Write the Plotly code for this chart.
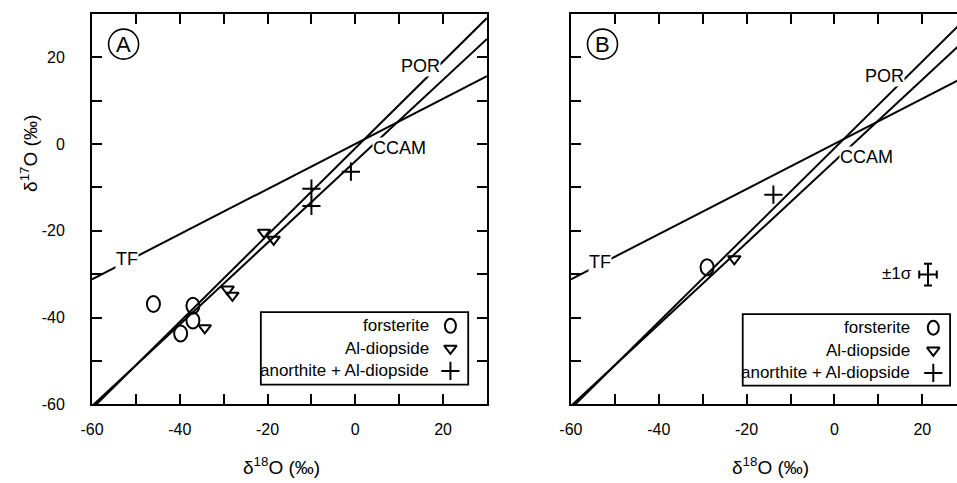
import plotly.graph_objects as go

W, H = 957, 483
FONT = "Liberation Sans, Arial, Helvetica, sans-serif"

# ---- measured oxygen isotope compositions (per mil) ----
# Panel A
forsterite_a_x = [-46.0, -37.0, -37.0, -39.8]
forsterite_a_y = [-36.9, -37.3, -40.7, -43.7]
diopside_a_x = [-20.8, -18.6, -29.1, -28.0, -34.3]
diopside_a_y = [-20.4, -22.0, -33.5, -34.9, -42.4]
anorthite_a_x = [-10.0, -10.0, -1.0]
anorthite_a_y = [-10.3, -14.3, -6.4]

# Panel B
forsterite_b_x = [-29.0]
forsterite_b_y = [-28.4]
diopside_b_x = [-22.8]
diopside_b_y = [-26.5]
anorthite_b_x = [-13.9]
anorthite_b_y = [-11.7]

# typical 1-sigma uncertainty
sigma_x = [21.3]
sigma_y = [-30.1]
sigma_err_x = [2.0]
sigma_err_y = [2.5]

# reference lines: delta17O = slope * delta18O + intercept
line_names = ["TF", "CCAM", "POR"]
line_slopes = [0.52, 0.94, 1.00]
line_intercepts = [0.0, -4.0, -1.0]
line_x = [-60, 30]

tick_vals = [-60, -50, -40, -30, -20, -10, 0, 10, 20, 30]
x_tick_text = ["-60", "", "-40", "", "-20", "", "0", "", "20", ""]
y_tick_text = ["-60", "", "-40", "", "-20", "", "0", "", "20", ""]

legend_labels = ["forsterite", "Al-diopside", "anorthite + Al-diopside"]


def px(x):
    return x / W


def py(y):
    return 1 - y / H


fig = go.Figure()

# reference lines in both panels
for xa, ya in (("x", "y"), ("x2", "y2")):
    for s, b in zip(line_slopes, line_intercepts):
        fig.add_trace(go.Scatter(
            x=line_x, y=[s * v + b for v in line_x], mode="lines",
            line=dict(color="black", width=2), xaxis=xa, yaxis=ya,
            showlegend=False, hoverinfo="skip"))

tri = dict(symbol="triangle-down-open", size=11, color="black",
           line=dict(color="black", width=2))
plus = dict(symbol="cross-thin-open", size=13, color="black",
            line=dict(color="black", width=2))

for xa, ya, dx, dy, ax_, ay_ in (
        ("x", "y", diopside_a_x, diopside_a_y, anorthite_a_x, anorthite_a_y),
        ("x2", "y2", diopside_b_x, diopside_b_y, anorthite_b_x, anorthite_b_y)):
    fig.add_trace(go.Scatter(x=dx, y=dy, mode="markers", marker=tri,
                             xaxis=xa, yaxis=ya, showlegend=False))
    fig.add_trace(go.Scatter(x=ax_, y=ay_, mode="markers", marker=plus,
                             xaxis=xa, yaxis=ya, showlegend=False))

# forsterite: open ellipses, placed on the data axes and sized in pixels
shapes = []
for xr, yr, fx, fy in (("x", "y", forsterite_a_x, forsterite_a_y),
                       ("x2", "y2", forsterite_b_x, forsterite_b_y)):
    for xv, yv in zip(fx, fy):
        shapes.append(dict(type="circle", xref=xr, yref=yr,
                           xsizemode="pixel", ysizemode="pixel",
                           xanchor=xv, yanchor=yv,
                           x0=-6.5, x1=6.5, y0=-8, y1=8,
                           line=dict(color="black", width=2)))

# 1-sigma error cross in panel B
fig.add_trace(go.Scatter(
    x=sigma_x, y=sigma_y, mode="markers", xaxis="x2", yaxis="y2",
    marker=dict(size=1, color="black"), showlegend=False,
    error_x=dict(type="data", array=sigma_err_x, color="black",
                 thickness=2, width=4),
    error_y=dict(type="data", array=sigma_err_y, color="black",
                 thickness=2, width=4)))

# legend boxes (symbol to the right of the text)
legend_boxes = [
    dict(x0=252, x1=462, y0=318, y1=392, text_r=424, key_x=444,
         rows=[332, 355, 378]),
    dict(x0=740, x1=950, y0=320, y1=393, text_r=911, key_x=933,
         rows=[334, 357, 380]),
]
annotations = []
for lb in legend_boxes:
    shapes.append(dict(type="rect", xref="paper", yref="paper",
                       x0=px(lb["x0"]), x1=px(lb["x1"]),
                       y0=py(lb["y1"]), y1=py(lb["y0"]),
                       line=dict(color="black", width=1.8)))
    for label, row in zip(legend_labels, lb["rows"]):
        annotations.append(dict(xref="paper", yref="paper",
                                x=px(lb["text_r"]), y=py(row),
                                xanchor="right", yanchor="middle",
                                text=label, showarrow=False,
                                font=dict(family=FONT, size=17, color="black")))
    shapes.append(dict(type="circle", xref="paper", yref="paper",
                       xsizemode="pixel", ysizemode="pixel",
                       xanchor=px(lb["key_x"]), yanchor=py(lb["rows"][0]),
                       x0=-5.5, x1=5.5, y0=-7, y1=7,
                       line=dict(color="black", width=2)))
    fig.add_trace(go.Scatter(
        x=[px(lb["key_x"])], y=[py(lb["rows"][1])], mode="markers",
        marker=tri, xaxis="x3", yaxis="y3", showlegend=False,
        hoverinfo="skip"))
    fig.add_trace(go.Scatter(
        x=[px(lb["key_x"])], y=[py(lb["rows"][2])], mode="markers",
        marker=plus, xaxis="x3", yaxis="y3", showlegend=False,
        hoverinfo="skip"))

# line labels
line_labels = [
    ("x", "y", "POR", 14.9, 18.0), ("x", "y", "CCAM", 10.0, -1.0),
    ("x", "y", "TF", -52.1, -26.5),
    ("x2", "y2", "POR", 11.5, 15.7), ("x2", "y2", "CCAM", 7.4, -3.1),
    ("x2", "y2", "TF", -53.3, -27.1),
]
for xr, yr, t, xv, yv in line_labels:
    annotations.append(dict(xref=xr, yref=yr, x=xv, y=yv, text=t,
                            xanchor="center", yanchor="middle",
                            showarrow=False, bgcolor="white", borderpad=0,
                            font=dict(family=FONT, size=18, color="black")))

# panel letters in circles
for letter, cx, cy in (("A", 113, 45), ("B", 598, 45)):
    shapes.append(dict(type="circle", xref="paper", yref="paper",
                       xsizemode="pixel", ysizemode="pixel",
                       xanchor=px(cx), yanchor=py(cy),
                       x0=-15, x1=15, y0=-15, y1=15,
                       line=dict(color="black", width=1.6)))
    annotations.append(dict(xref="paper", yref="paper", x=px(cx),
                            y=py(cy), xanchor="center", yanchor="middle",
                            text=letter, showarrow=False,
                            font=dict(family=FONT, size=22, color="black")))

annotations.append(dict(xref="paper", yref="paper", x=px(913), y=py(279),
                        xanchor="right", yanchor="middle", text="±1σ",
                        showarrow=False,
                        font=dict(family=FONT, size=17, color="black")))

# axis titles
for cx in (273, 768):
    annotations.append(dict(xref="paper", yref="paper", x=px(cx), y=py(475),
                            xanchor="center", yanchor="middle",
                            text="δ<sup>18</sup>O (‰)", showarrow=False,
                            font=dict(family=FONT, size=19, color="black")))
annotations.append(dict(xref="paper", yref="paper", x=px(17), y=py(156),
                        xanchor="center", yanchor="middle",
                        text="δ<sup>17</sup>O (‰)", textangle=-90,
                        showarrow=False,
                        font=dict(family=FONT, size=19, color="black")))

axis_common = dict(showline=True, linecolor="black", linewidth=2,
                   ticks="inside", ticklen=10, tickwidth=2,
                   tickcolor="black", showgrid=False, zeroline=False,
                   tickvals=tick_vals,
                   tickfont=dict(family=FONT, size=16, color="black"))

y_dom = [py(412), py(14)]

fig.update_layout(
    width=W, height=H, margin=dict(l=0, r=0, t=0, b=0),
    paper_bgcolor="white", plot_bgcolor="rgba(0,0,0,0)", showlegend=False,
    xaxis=dict(axis_common, domain=[px(81), px(481)], range=[-60, 30],
               anchor="y", mirror="ticks", ticktext=x_tick_text,
               ticklabelstandoff=9),
    yaxis=dict(axis_common, domain=y_dom, range=[-60, 30], anchor="x",
               mirror="ticks", ticktext=y_tick_text, ticklabelstandoff=22),
    xaxis2=dict(axis_common, domain=[px(566), 1.0], range=[-60, 27.9],
                anchor="y2", mirror="ticks", ticktext=x_tick_text,
                ticklabelstandoff=9),
    yaxis2=dict(axis_common, domain=y_dom, range=[-60, 30], anchor="x2",
                mirror=False, showticklabels=False),
    # free helper axes spanning the whole figure, used for legend keys
    xaxis3=dict(domain=[0, 1], range=[0, 1], visible=False, anchor="y3",
                fixedrange=True),
    yaxis3=dict(domain=[0, 1], range=[0, 1], visible=False, anchor="x3",
                fixedrange=True),
    shapes=shapes, annotations=annotations,
)

fig.write_html("out.html")
